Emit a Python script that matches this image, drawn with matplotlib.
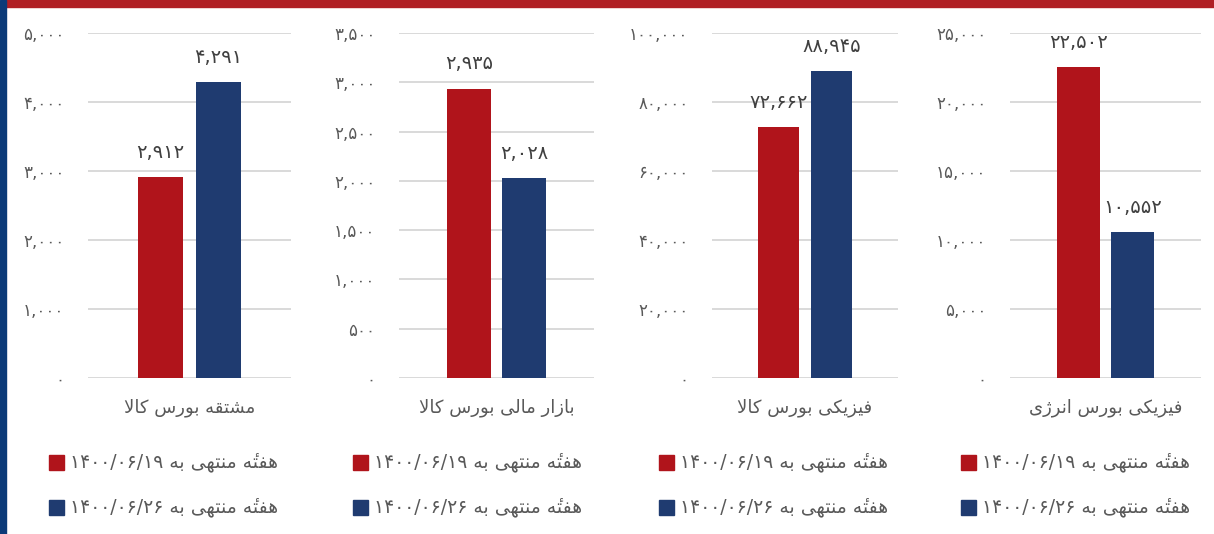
import matplotlib
matplotlib.use('Agg')
import matplotlib.pyplot as plt
from matplotlib.patches import Rectangle
from matplotlib.ticker import FuncFormatter, MultipleLocator

# data
categories = ['مشتقه بورس کالا', 'بازار مالی بورس کالا', 'فیزیکی بورس کالا', 'فیزیکی بورس انرژی']
week_19 = [2912, 2935, 72662, 22502]
week_26 = [4291, 2028, 88945, 10552]
y_max = [5000, 3500, 100000, 25000]
y_step = [1000, 500, 20000, 5000]
series_labels = ['هفتۀ منتهی به', 'هفتۀ منتهی به']
series_dates = ['1400/06/19', '1400/06/26']

RED = '#B0141B'
BLUE = '#1F3B70'
GRAY = '#595959'

# persian letters -> presentation forms (isolated, final, initial, medial)
FORMS = {
    'ا': ('\uFE8D', '\uFE8E', None, None),
    'ب': ('\uFE8F', '\uFE90', '\uFE91', '\uFE92'),
    'ت': ('\uFE95', '\uFE96', '\uFE97', '\uFE98'),
    'ر': ('\uFEAD', '\uFEAE', None, None),
    'ز': ('\uFEAF', '\uFEB0', None, None),
    'ژ': ('\uFB8A', '\uFB8B', None, None),
    'س': ('\uFEB1', '\uFEB2', '\uFEB3', '\uFEB4'),
    'ش': ('\uFEB5', '\uFEB6', '\uFEB7', '\uFEB8'),
    'ف': ('\uFED1', '\uFED2', '\uFED3', '\uFED4'),
    'ق': ('\uFED5', '\uFED6', '\uFED7', '\uFED8'),
    'ک': ('\uFB8E', '\uFB8F', '\uFB90', '\uFB91'),
    'ل': ('\uFEDD', '\uFEDE', '\uFEDF', '\uFEE0'),
    'م': ('\uFEE1', '\uFEE2', '\uFEE3', '\uFEE4'),
    'ن': ('\uFEE5', '\uFEE6', '\uFEE7', '\uFEE8'),
    'ه': ('\uFEE9', '\uFEEA', '\uFEEB', '\uFEEC'),
    'و': ('\uFEED', '\uFEEE', None, None),
    'ی': ('\uFBFC', '\uFBFD', '\uFBFE', '\uFBFF'),
    # heh + hamza above: no precomposed glyph in DejaVu, use heh + combining mark
    'ۀ': ('\u0654\uFEE9', '\u0654\uFEEA', None, None),
}


def rtl(text):
    out = []
    for i, ch in enumerate(text):
        f = FORMS.get(ch)
        if f is None:
            out.append(ch)
            continue
        prev = text[i - 1] if i > 0 else None
        nxt = text[i + 1] if i < len(text) - 1 else None
        jp = prev in FORMS and FORMS[prev][2] is not None
        jn = f[2] is not None and nxt in FORMS
        if jp and jn:
            out.append(f[3])
        elif jp:
            out.append(f[1])
        elif jn:
            out.append(f[2])
        else:
            out.append(f[0])
    s = ''.join(out)
    s = s.replace('\uFEDF\uFE8E', '\uFEFB').replace('\uFEE0\uFE8E', '\uFEFC')
    return s[::-1]


def fa_digits(s):
    return s.translate(str.maketrans('0123456789', '۰۱۲۳۴۵۶۷۸۹'))


def fmt(v, pos=None):
    return fa_digits(f'{int(round(v)):,}')


plt.rcParams['font.family'] = ['DejaVu Sans']

fig = plt.figure(figsize=(12.14, 5.34), dpi=100)
W, H = 1214, 534

# header strip and left edge
fig.patches.append(Rectangle((6 / W, 1 - 7 / H), 1, 7 / H, transform=fig.transFigure,
                             color='#B01F24', zorder=0))
fig.patches.append(Rectangle((0, 0), 6 / W, 1, transform=fig.transFigure,
                             color='#0B3A78', zorder=0))

ax_left = [88, 399, 712, 1010]
ax_width = [203, 195, 186, 191]
legend_x = [49, 353, 659, 961]
top_px, bottom_px = 33, 378

for i, cat in enumerate(categories):
    ax = fig.add_axes([ax_left[i] / W, 1 - bottom_px / H, ax_width[i] / W, (bottom_px - top_px) / H])
    vals = [week_19[i], week_26[i]]
    bars = ax.bar([-0.285, 0.285], vals, width=0.45, color=[RED, BLUE], zorder=3)
    for b, v in zip(bars, vals):
        ax.annotate(fmt(v), (b.get_x() + b.get_width() / 2, v), xytext=(0, 11),
                    textcoords='offset points', ha='center', va='bottom',
                    fontsize=14, color='#404040')
    ax.set_xlim(-1, 1)
    ax.set_ylim(0, y_max[i])
    ax.yaxis.set_major_locator(MultipleLocator(y_step[i]))
    ax.yaxis.set_major_formatter(FuncFormatter(fmt))
    ax.set_xticks([])
    ax.grid(axis='y', color='#D9D9D9', linewidth=1.4, zorder=0)
    for s in ax.spines.values():
        s.set_visible(False)
    ax.tick_params(axis='y', length=0, pad=17, labelsize=12, labelcolor=GRAY)
    ax.set_xlabel(rtl(cat), fontsize=13, color=GRAY, labelpad=15)

    # legend
    for j, (lab, d, c) in enumerate(zip(series_labels, series_dates, [RED, BLUE])):
        yc = 1 - (462 + 45 * j) / H
        fig.patches.append(Rectangle((legend_x[i] / W, yc - 7.5 / H), 15 / W, 15 / H,
                                     transform=fig.transFigure, color=c))
        fig.text((legend_x[i] + 21) / W, yc, fa_digits(d) + ' ' + rtl(lab),
                 ha='left', va='center', fontsize=13.5, color=GRAY)

fig.savefig('out.png', dpi=100)
